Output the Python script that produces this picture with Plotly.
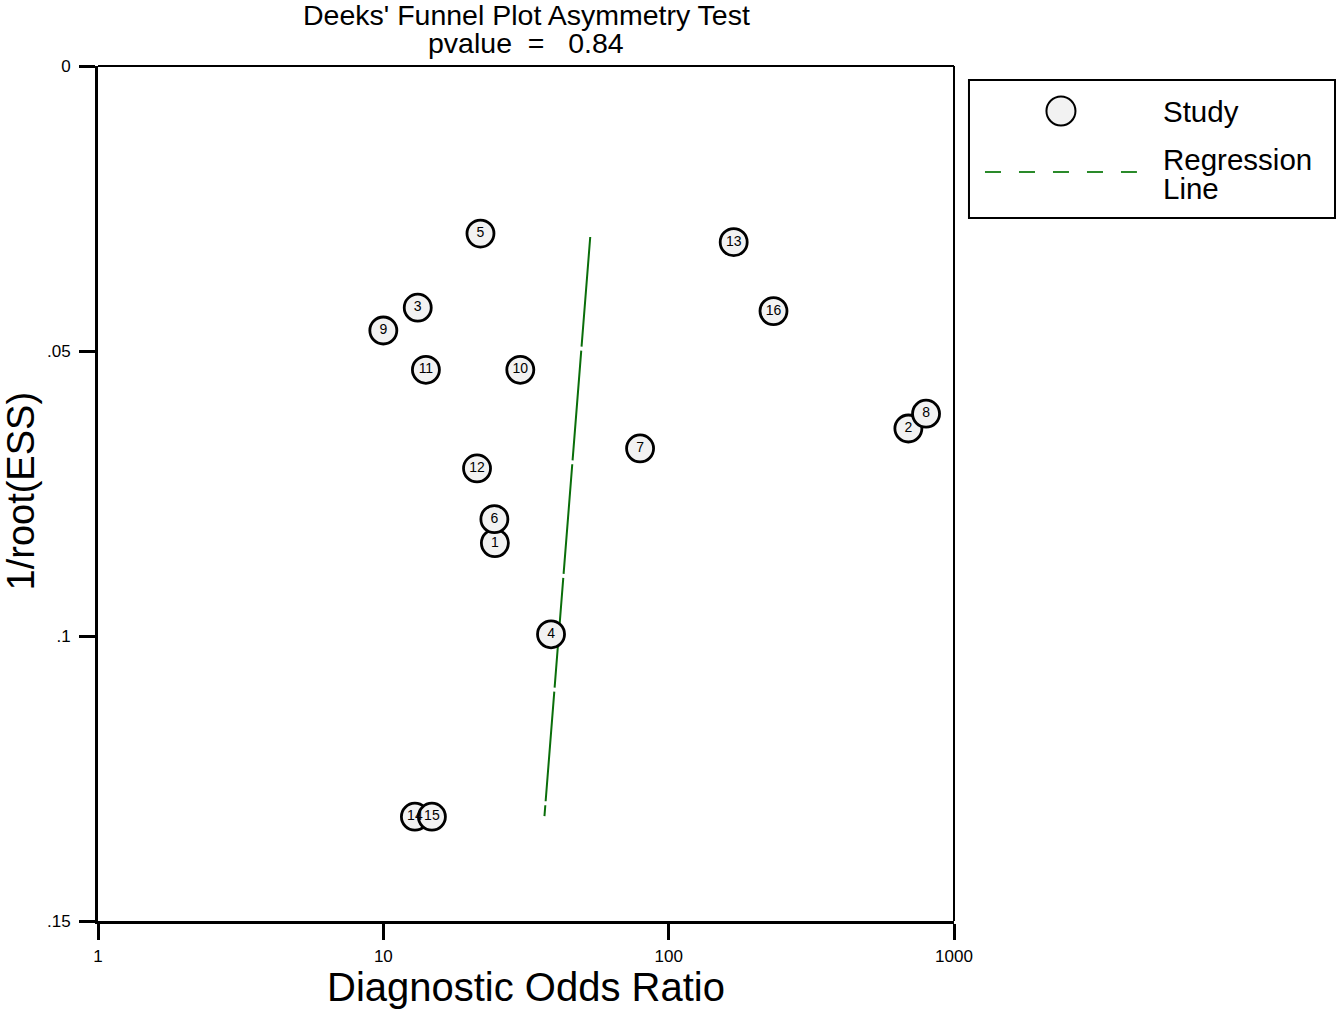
import plotly.graph_objects as go

# study data
study_ids = ["1", "2", "3", "4", "5", "6", "7", "8", "9", "10", "11", "12", "13", "14", "15", "16"]
dor = [24.6, 692, 13.2, 38.7, 21.9, 24.5, 79.4, 798, 10.0, 30.2, 14.1, 21.3, 169, 12.9, 14.8, 233]
inv_root_ess = [0.0837, 0.0636, 0.0424, 0.0997, 0.0294, 0.0795, 0.0671, 0.0610, 0.0464,
                0.0533, 0.0533, 0.0706, 0.0309, 0.1317, 0.1317, 0.0430]

# regression line end points
reg_dor = [53.1, 36.7]
reg_y = [0.0300, 0.1316]

x_ticks = [1, 10, 100, 1000]
x_tick_text = ["1", "10", "100", "1000"]
y_ticks = [0, 0.05, 0.1, 0.15]
y_tick_text = ["0", ".05", ".1", ".15"]

FONT = "Liberation Sans, Arial, sans-serif"

fig = go.Figure()

fig.add_trace(go.Scatter(x=reg_dor, y=reg_y, mode="lines",
                         line=dict(color="#0a6e0a", width=2, dash="110px,4px"),
                         showlegend=False, hoverinfo="skip"))

fig.add_trace(go.Scatter(x=dor, y=inv_root_ess, mode="markers+text",
                         text=study_ids, textposition="middle center",
                         textfont=dict(family=FONT, size=14, color="black"),
                         marker=dict(size=27, color="#f2f2f2",
                                     line=dict(color="black", width=2.8)),
                         showlegend=False))

fig.update_layout(
    width=1338, height=1014,
    margin=dict(l=98, r=384, t=66, b=93),
    plot_bgcolor="white", paper_bgcolor="white",
    font=dict(family=FONT, color="black"),
    xaxis=dict(type="log", range=[0, 3], tickvals=x_ticks, ticktext=x_tick_text,
               showgrid=False, zeroline=False, showline=True, linecolor="black",
               linewidth=3, ticks="outside", ticklen=16, tickwidth=3,
               tickcolor="black", tickfont=dict(size=17), ticklabelstandoff=2),
    yaxis=dict(range=[0.15, 0], tickvals=y_ticks, ticktext=y_tick_text,
               showgrid=False, zeroline=False, showline=True, linecolor="black",
               linewidth=3, ticks="outside", ticklen=16, tickwidth=3,
               tickcolor="black", tickfont=dict(size=17), ticklabelstandoff=5),
    showlegend=False,
)

# top and right frame lines
fig.add_shape(type="line", xref="paper", yref="paper", x0=0, x1=1, y0=1, y1=1,
              line=dict(color="black", width=2))
fig.add_shape(type="line", xref="paper", yref="paper", x0=1, x1=1, y0=0, y1=1,
              line=dict(color="black", width=2))

# titles
fig.add_annotation(text="Deeks' Funnel Plot Asymmetry Test", xref="paper", yref="paper",
                   x=0.5, y=1.0598, showarrow=False, yanchor="middle",
                   font=dict(size=28.5))
fig.add_annotation(text="pvalue  =   0.84", xref="paper", yref="paper",
                   x=0.5, y=1.0265, showarrow=False, yanchor="middle",
                   font=dict(size=28.5))
fig.add_annotation(text="Diagnostic Odds Ratio", xref="paper", yref="paper",
                   x=0.5, y=-0.077, showarrow=False, yanchor="middle",
                   font=dict(size=40))
fig.add_annotation(text="1/root(ESS)", xref="paper", yref="paper",
                   x=-0.0905, y=0.503, showarrow=False, textangle=-90,
                   xanchor="center", yanchor="middle", font=dict(size=38))

# legend box
fig.add_shape(type="rect", xref="paper", yref="paper", x0=1.0175, x1=1.4451,
              y0=0.8222, y1=0.9836, line=dict(color="black", width=2))
fig.add_shape(type="circle", xref="paper", yref="paper", x0=1.1080, x1=1.1419,
              y0=0.9304, y1=0.9643, fillcolor="#f2f2f2",
              line=dict(color="black", width=2))
fig.add_shape(type="line", xref="paper", yref="paper", x0=1.0362, x1=1.2137,
              y0=0.8760, y1=0.8760, line=dict(color="#2a8a2a", width=2, dash="16px,18px"))
fig.add_annotation(text="Study", xref="paper", yref="paper", x=1.2417, y=0.9462,
                   xanchor="left", yanchor="middle", showarrow=False, font=dict(size=29.5))
fig.add_annotation(text="Regression", xref="paper", yref="paper", x=1.2417, y=0.8912,
                   xanchor="left", yanchor="middle", showarrow=False, font=dict(size=29.5))
fig.add_annotation(text="Line", xref="paper", yref="paper", x=1.2417, y=0.8573,
                   xanchor="left", yanchor="middle", showarrow=False, font=dict(size=29.5))

fig.write_html("out.html", config={"displayModeBar": False},
               post_script="document.body.style.margin='0';")
